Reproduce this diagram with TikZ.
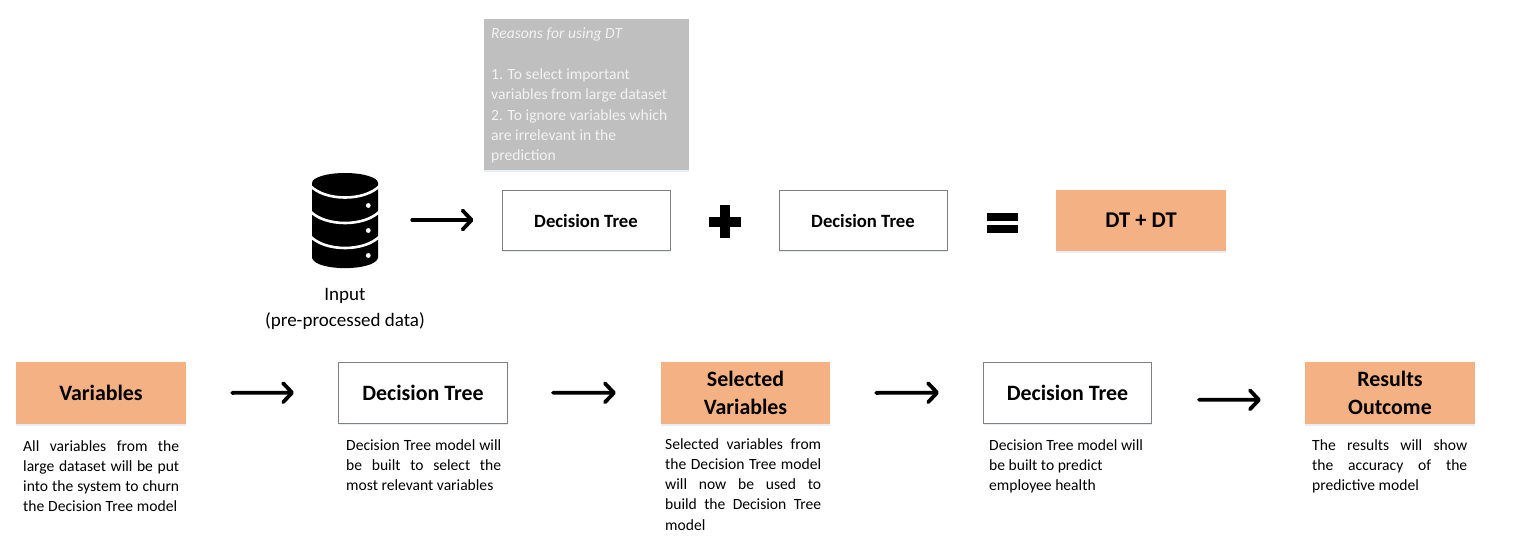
\documentclass[tikz,border=0pt]{standalone}
\usepackage{fontspec}
\setmainfont{Carlito}
\usetikzlibrary{arrows.meta,shadows,positioning}
\definecolor{orangebox}{HTML}{F4B183}
\definecolor{greybox}{HTML}{BFBFBF}
\definecolor{boxline}{HTML}{7F7F7F}
\definecolor{softshadow}{HTML}{C4D5EA}
\newcommand{\jl}[2][155]{\makebox[#1pt][s]{#2}}
\tikzset{
  softdrop/.style={drop shadow={shadow xshift=0pt,shadow yshift=-2pt,fill=softshadow,opacity=.4}},
  whitebox/.style={draw=boxline,line width=1pt,fill=white,minimum width=168pt,minimum height=60pt,inner sep=0pt,softdrop},
  orangenode/.style={fill=orangebox,minimum width=170pt,minimum height=62pt,inner sep=0pt,softdrop,align=center},
  toplabel/.style={font=\fontsize{18.7}{20}\selectfont\bfseries},
  lowlabel/.style={font=\fontsize{21.9}{28}\selectfont\bfseries},
  bodytext/.style={font=\fontsize{15.6}{20.3}\selectfont,anchor=north west,inner sep=0pt,align=left},
  flow/.style={line width=3.8pt,line cap=round,-{Straight Barb[length=9pt,width=19pt,line width=3.8pt,round]}},
}
\begin{document}
\begin{tikzpicture}[x=1pt,y=-1pt]
\useasboundingbox (0,0) rectangle (1540,555);
\fill[white] (0,0) rectangle (1540,555);
% reasons
\node[fill=greybox,minimum width=205pt,minimum height=151pt,inner sep=0pt,softdrop] (reasons) at (586.5,94.5) {};
\node[bodytext,text=white!95!black] (reasonstext) at (491,28) {\textit{Reasons for using DT}\\\mbox{}\\1. To select important\\variables from large dataset\\2. To ignore variables which\\are irrelevant in the\\prediction};
% database icon
\node[minimum width=66pt,minimum height=95pt,inner sep=0pt] (db) at (345,220.5) {};
\fill[black] (312,183) -- (312,258) .. controls (316,271.5) and (374,271.5) .. (378,258) -- (378,183) -- cycle;
\fill[black] (345,183) ellipse[x radius=33,y radius=10];
\foreach \yy in {185.5,211,236}
  \draw[white,line width=2.6pt] (310,\yy) .. controls (325,\yy+16) and (365,\yy+16) .. (380,\yy);
\foreach \yy in {205.5,230.5,255.5}
  \fill[white] (368.3,\yy) circle[radius=2.4];
\node[font=\fontsize{19}{26}\selectfont,align=center,inner sep=0pt] (input) at (345,308.5) {Input\\(pre-processed data)};
% top row
\node[whitebox,toplabel,text height=14.5pt,text depth=0pt] (top1) at (586,220) {Decision Tree};
\node[whitebox,toplabel,text height=14.5pt,text depth=0pt] (top2) at (863,220) {Decision Tree};
\node[orangenode,minimum height=61pt,font=\fontsize{22.5}{24}\selectfont\bfseries] (top3) at (1141,220.5) {DT + DT};
\draw[flow,shorten <=34pt,shorten >=28pt] (db.east |- top1.west) -- (top1.west);
\fill[black] (720,205) rectangle (730,238);
\fill[black] (709,216.5) rectangle (741,226.5);
\fill[black] (987,213) rectangle (1018,220.5);
\fill[black] (987,225) rectangle (1018,232.5);
% bottom row
\node[orangenode,lowlabel] (var) at (101,393) {Variables};
\node[whitebox,lowlabel,minimum width=169pt,minimum height=61pt] (dta) at (423,392.5) {Decision Tree};
\node[orangenode,lowlabel,minimum width=169pt] (sel) at (745.5,393) {Selected\\Variables};
\node[whitebox,lowlabel,minimum width=168pt,minimum height=61pt] (dtb) at (1067.5,392.5) {Decision Tree};
\node[orangenode,lowlabel] (res) at (1390,393) {Results\\Outcome};
\draw[flow,shorten <=46pt,shorten >=44pt] (var.east) -- (dta.west);
\draw[flow,shorten <=45pt,shorten >=45pt] (dta.east) -- (sel.west);
\draw[flow,shorten <=46pt,shorten >=44pt] (sel.east) -- (dtb.west);
\draw[flow,shorten <=47pt,shorten >=44pt] ([yshift=-7pt]dtb.east) -- ([yshift=-7pt]res.west);
% descriptions
\node[bodytext] (vartext) at (23,440) {\jl[156]{All variables from the}\\\jl[156]{large dataset will be put}\\\jl[156]{into the system to churn}\\\jl[154]{the Decision Tree model}};
\node[bodytext] (dtatext) at (346,439) {\jl{Decision Tree model will}\\\jl{be built to select the}\\most relevant variables};
\node[bodytext] (seltext) at (665,438) {\jl[156]{Selected variables from}\\\jl[156]{the Decision Tree model}\\\jl[156]{will now be used to}\\\jl[156]{build the Decision Tree}\\model};
\node[bodytext] (dtbtext) at (989,439) {Decision Tree model will\\be built to predict\\employee health};
\node[bodytext] (restext) at (1312,439) {\jl{The results will show}\\\jl{the accuracy of the}\\predictive model};
\end{tikzpicture}
\end{document}
